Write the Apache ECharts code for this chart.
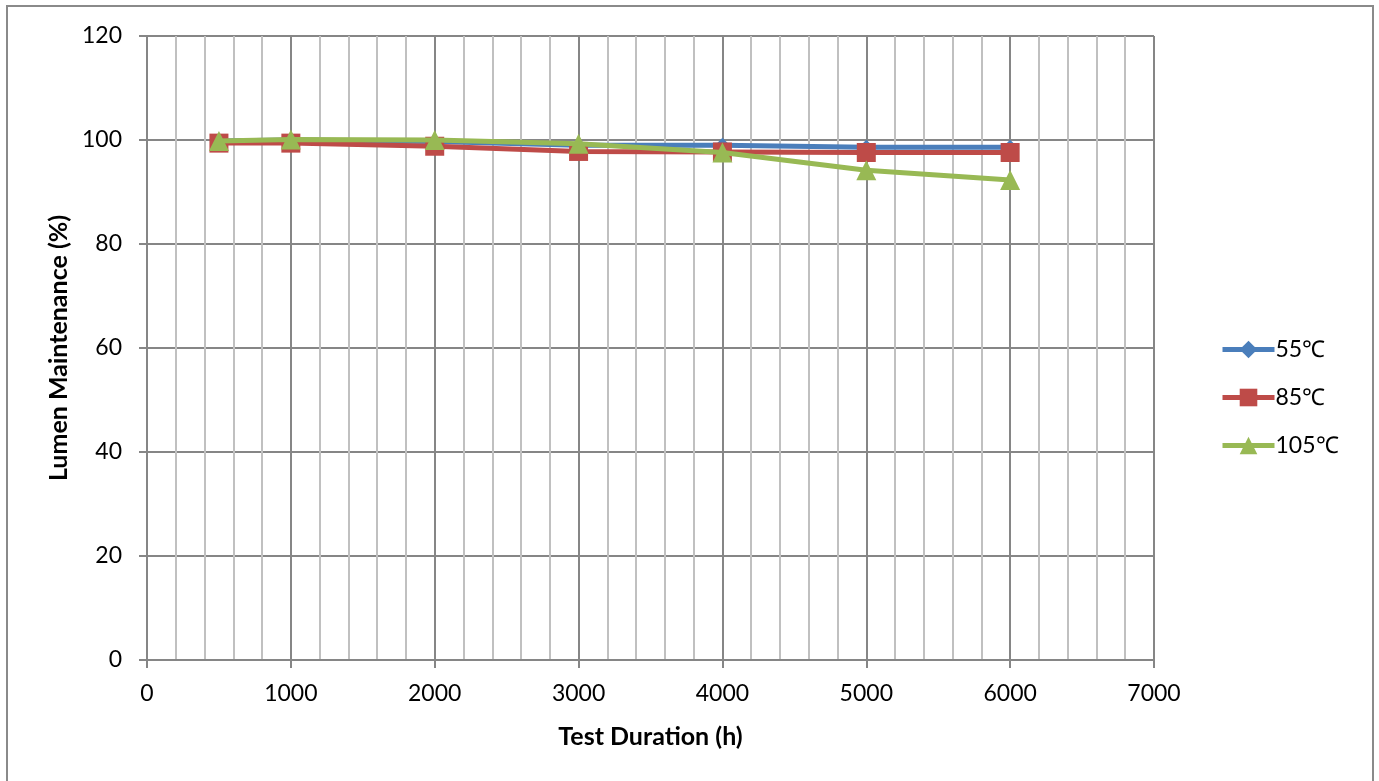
<!DOCTYPE html>
<html>
<head>
<meta charset="utf-8">
<script src="https://cdn.jsdelivr.net/npm/echarts@6/dist/echarts.min.js"></script>
<style>
html,body{margin:0;padding:0;background:#fff;}
#c{width:1379px;height:781px;}
</style>
</head>
<body>
<div id="c"></div>
<script>
var hours = [500, 1000, 2000, 3000, 4000, 5000, 6000];
var s55 = [99.8, 100.0, 99.7, 99.0, 99.0, 98.6, 98.6];
var s85 = [99.4, 99.4, 98.8, 97.8, 97.7, 97.6, 97.6];
var s105 = [99.8, 100.1, 100.0, 99.3, 97.6, 94.2, 92.3];
var seriesNames = ['55℃', '85℃', '105℃'];
var xTicks = [0, 1000, 2000, 3000, 4000, 5000, 6000, 7000];
var yTicks = [0, 20, 40, 60, 80, 100, 120];

function pairs(vals){ return hours.map(function(h,i){ return [h, vals[i]]; }); }

var font = 'Lato, "Open Sans", sans-serif';
var chart = echarts.init(document.getElementById('c'));
chart.setOption({
  animation: false,
  textStyle: {fontFamily: font},
  graphic: [{
    type: 'rect', z: -10, silent: true,
    shape: {x: 7, y: 6, width: 1366, height: 800},
    style: {fill: 'none', stroke: '#8a8a8a', lineWidth: 2}
  }],
  grid: {left: 147, top: 36, right: 225, bottom: 121},
  legend: {
    orient: 'vertical', left: 1215, top: 333, itemGap: 25,
    itemWidth: 52, itemHeight: 22,
    lineStyle: {width: 5},
    textStyle: {fontSize: 23, lineHeight: 22, color: '#000', fontFamily: font, padding: [0,0,0,-4]},
    data: seriesNames
  },
  xAxis: {
    type: 'value', min: xTicks[0], max: xTicks[xTicks.length-1], interval: 1000,
    name: 'Test Duration (h)', nameLocation: 'middle', nameGap: 64,
    nameTextStyle: {fontSize: 25, fontWeight: 'bold', color: '#000', fontFamily: font},
    axisLine: {lineStyle: {color: '#868686', width: 2}},
    axisTick: {show: true, length: 8, lineStyle: {color: '#868686', width: 2}},
    axisLabel: {fontSize: 23, color: '#000', margin: 22, fontFamily: font,
      formatter: function(v){ return String(v); }},
    splitLine: {show: true, lineStyle: {color: '#868686', width: 2}},
    minorTick: {show: false, splitNumber: 5},
    minorSplitLine: {show: true, lineStyle: {color: '#c0c0c0', width: 2}}
  },
  yAxis: {
    type: 'value', min: yTicks[0], max: yTicks[yTicks.length-1], interval: 20,
    name: 'Lumen Maintenance (%)', nameLocation: 'middle', nameGap: 72,
    nameTextStyle: {fontSize: 25, fontWeight: 'bold', color: '#000', fontFamily: font},
    axisLine: {show: true, lineStyle: {color: '#868686', width: 2}},
    axisTick: {show: true, length: 8, lineStyle: {color: '#868686', width: 2}},
    axisLabel: {fontSize: 23, color: '#000', margin: 25, fontFamily: font},
    splitLine: {show: true, lineStyle: {color: '#868686', width: 2}}
  },
  series: [
    {name: seriesNames[0], type: 'line', data: pairs(s55), symbol: 'diamond', symbolSize: 15,
     lineStyle: {width: 5, color: '#4a7ebb'}, itemStyle: {color: '#4a7ebb'}, z: 3},
    {name: seriesNames[1], type: 'line', data: pairs(s85), symbol: 'rect', symbolSize: 19,
     lineStyle: {width: 5, color: '#be4b48'}, itemStyle: {color: '#be4b48'}, z: 4},
    {name: seriesNames[2], type: 'line', data: pairs(s105), symbol: 'triangle', symbolSize: 20,
     lineStyle: {width: 5, color: '#98b954'}, itemStyle: {color: '#98b954'}, z: 5}
  ]
});
</script>
</body>
</html>
